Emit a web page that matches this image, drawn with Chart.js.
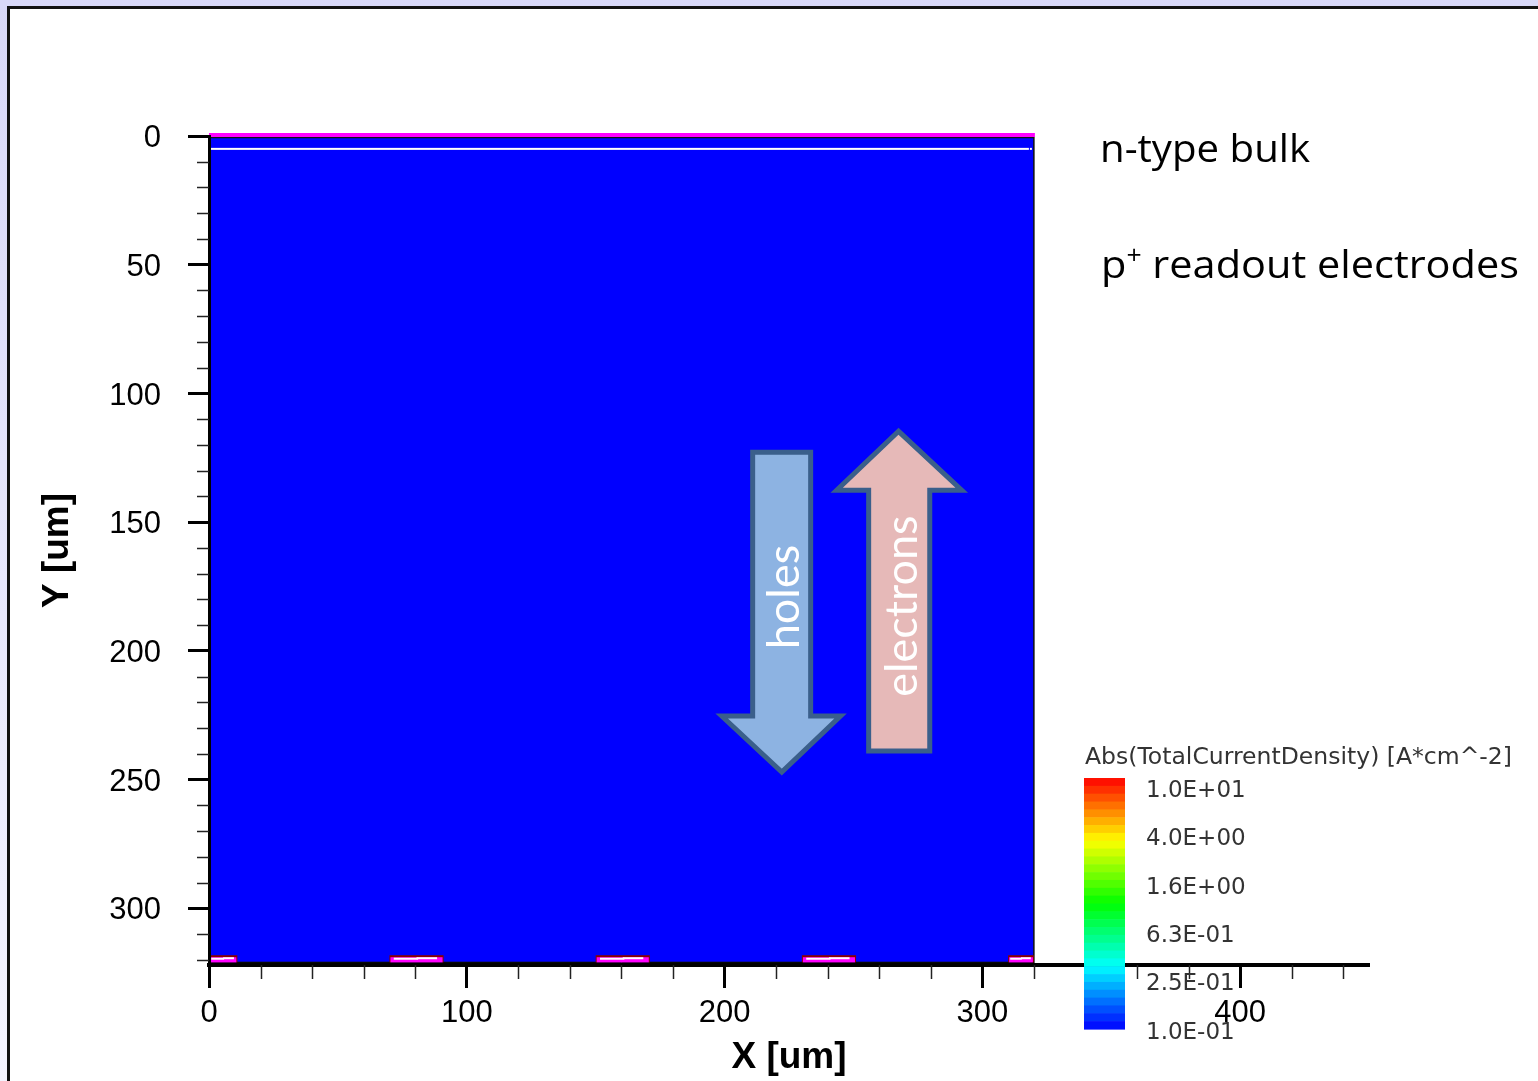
<!DOCTYPE html>
<html>
<head>
<meta charset="utf-8">
<script src="https://cdn.jsdelivr.net/npm/chart.js@4.4.1/dist/chart.umd.min.js"></script>
<style>
  html, body { margin: 0; padding: 0; }
  body {
    width: 1538px;
    height: 1081px;
    overflow: hidden;
    position: relative;
    background: linear-gradient(#d8d8f8, #f4f4ff);
  }
  #slide {
    position: absolute;
    left: 7px;
    top: 6px;
    width: 1560px;
    height: 1100px;
    background: #fff;
    border: 3px solid #111;
  }
  #chart { position: absolute; left: 0; top: 0; }
</style>
</head>
<body>
<div id="slide"></div>
<canvas id="chart" width="1538" height="1081"></canvas>
<script>
/* Device (um) */
const deviceWidth = 320;
const deviceDepth = 321;
const oxideDepth = 5;

/* p+ strips at the back side */
const stripStart = [0, 70, 150, 230, 310];
const stripEnd = [11, 91, 171, 251, 320];
const stripTop = 318.2;

/* Axes */
const xTickValues = [0, 20, 40, 60, 80, 100, 120, 140, 160, 180, 200, 220, 240, 260, 280, 300, 320, 340, 360, 380, 400, 420, 440];
const xLabelValues = [0, 100, 200, 300, 400];
const yTickValues = [0, 10, 20, 30, 40, 50, 60, 70, 80, 90, 100, 110, 120, 130, 140, 150, 160, 170, 180, 190, 200, 210, 220, 230, 240, 250, 260, 270, 280, 290, 300, 310, 320];
const yLabelValues = [0, 50, 100, 150, 200, 250, 300];

/* Carrier arrows (um) */
const holesX = [210.9, 233.4, 233.4, 245.0, 222.2, 198.9, 210.9];
const holesY = [122.8, 122.8, 225.3, 225.3, 247.1, 225.3, 225.3];
const holesText = [228.7, 179.1];
const electronsX = [255.9, 279.6, 279.6, 292.0, 267.5, 243.5, 255.9];
const electronsY = [238.9, 238.9, 137.6, 137.6, 114.7, 137.6, 137.6];
const electronsText = [274.6, 182.6];

/* Colour bar */
const colorbarTitle = "Abs(TotalCurrentDensity) [A*cm^-2]";
const colorbarLabels = ["1.0E+01", "4.0E+00", "1.6E+00", "6.3E-01", "2.5E-01", "1.0E-01"];
const colorbarBands = 32;

function stretchText(ctx, text, x, y, width) {
  const w = ctx.measureText(text).width;
  ctx.save();
  ctx.translate(x, y);
  ctx.scale(width / w, 1);
  ctx.fillText(text, 0, 0);
  ctx.restore();
}

function arrowPath(ctx, xs, ys, sx, sy) {
  ctx.beginPath();
  xs.forEach((v, i) => {
    const px = sx.getPixelForValue(v);
    const py = sy.getPixelForValue(ys[i]);
    if (i === 0) ctx.moveTo(px, py);
    else ctx.lineTo(px, py);
  });
  ctx.closePath();
}

/* Field + strips, under the axes */
const fieldPlugin = {
  id: "field",
  beforeDraw(chart) {
    const { ctx, scales: { x, y } } = chart;
    const l = x.getPixelForValue(0);
    const r = x.getPixelForValue(deviceWidth);
    const t = y.getPixelForValue(0);
    const b = y.getPixelForValue(deviceDepth);

    ctx.save();
    ctx.fillStyle = "#0000ff";
    ctx.fillRect(l, t, r - l, b - t);

    ctx.strokeStyle = "#111";
    ctx.lineWidth = 1.5;
    ctx.strokeRect(l, t + 1.5, r - l, b - t - 1.5);

    // magenta top contact
    ctx.fillStyle = "#ff00ff";
    ctx.fillRect(l, t - 3, r - l + 1, 4);

    // oxide interface line
    const oy = y.getPixelForValue(oxideDepth);
    ctx.fillStyle = "#ffffff";
    ctx.fillRect(l + 2, oy - 1, r - l - 7, 2);
    ctx.fillRect(r - 4, oy - 1, 2, 2);

    // strips
    stripStart.forEach((s, i) => {
      const sx0 = x.getPixelForValue(s);
      const sx1 = x.getPixelForValue(stripEnd[i]);
      const sy0 = y.getPixelForValue(stripTop);
      const w = sx1 - sx0;
      ctx.fillStyle = "#8b0000";
      ctx.fillRect(sx0, sy0, w, b - sy0 + 1);
      ctx.fillStyle = "#ff00ff";
      ctx.fillRect(sx0 + 1, sy0 + 2, w - 2, b - sy0 - 1);
      ctx.fillStyle = "#ffffff";
      ctx.fillRect(sx0 + w * 0.08, sy0 + 2.5, w * 0.45, 2);
      ctx.fillRect(sx0 + w * 0.5, sy0 + 2, w * 0.38, 2);
    });

    ctx.strokeStyle = "#000";
    ctx.lineWidth = 1;
    ctx.beginPath();
    ctx.moveTo(l, b + 0.5);
    ctx.lineTo(r, b + 0.5);
    ctx.stroke();
    ctx.restore();
  },

  afterDraw(chart) {
    const { ctx, chartArea, scales: { x, y } } = chart;
    ctx.save();

    // minor ticks
    ctx.strokeStyle = "#222";
    ctx.lineWidth = 1.5;
    xTickValues.forEach((v) => {
      if (xLabelValues.includes(v)) return;
      const px = Math.round(x.getPixelForValue(v)) + 0.5;
      ctx.beginPath();
      ctx.moveTo(px, chartArea.bottom);
      ctx.lineTo(px, chartArea.bottom + 14);
      ctx.stroke();
    });
    yTickValues.forEach((v) => {
      if (yLabelValues.includes(v)) return;
      const py = Math.round(y.getPixelForValue(v)) + 0.5;
      ctx.beginPath();
      ctx.moveTo(chartArea.left - 12, py);
      ctx.lineTo(chartArea.left, py);
      ctx.stroke();
    });

    // arrows
    ctx.lineJoin = "miter";
    ctx.lineWidth = 5;
    ctx.strokeStyle = "#3a5f8b";
    arrowPath(ctx, holesX, holesY, x, y);
    ctx.fillStyle = "#8db3e2";
    ctx.fill();
    ctx.stroke();
    arrowPath(ctx, electronsX, electronsY, x, y);
    ctx.fillStyle = "#e6b9b8";
    ctx.fill();
    ctx.stroke();

    ctx.fillStyle = "#ffffff";
    ctx.font = "45px Lato";
    ctx.textAlign = "center";
    ctx.textBaseline = "alphabetic";
    [["holes", holesText], ["electrons", electronsText]].forEach(([txt, pos]) => {
      ctx.save();
      ctx.translate(x.getPixelForValue(pos[0]), y.getPixelForValue(pos[1]));
      ctx.rotate(-Math.PI / 2);
      ctx.fillText(txt, 0, 0);
      ctx.restore();
    });

    // side notes
    ctx.fillStyle = "#000";
    ctx.textAlign = "left";
    ctx.font = "39px 'Open Sans'";
    stretchText(ctx, "n-type bulk", 1100, 162, 210);

    const small = "25px 'Open Sans'";
    const big = "39px 'Open Sans'";
    ctx.font = big;
    const wp = ctx.measureText("p").width;
    const wr = ctx.measureText(" readout electrodes").width;
    ctx.font = small;
    const wplus = ctx.measureText("+").width;
    const k = 418 / (wp + wplus + wr);
    ctx.save();
    ctx.translate(1101, 278);
    ctx.scale(k, 1);
    ctx.font = big;
    ctx.fillText("p", 0, 0);
    ctx.font = small;
    ctx.fillText("+", wp, -14);
    ctx.font = big;
    ctx.fillText(" readout electrodes", wp + wplus, 0);
    ctx.restore();

    // colour bar
    const barL = 1084, barR = 1125, barT = 778, barB = 1029;
    const bh = (barB - barT) / colorbarBands;
    for (let i = 0; i < colorbarBands; i++) {
      const hue = ((i + 0.5) / colorbarBands) * 240;
      ctx.fillStyle = "hsl(" + hue + ",100%,50%)";
      ctx.fillRect(barL, barT + i * bh, barR - barL, bh + 0.6);
    }
    ctx.fillStyle = "#333";
    ctx.font = "23px 'DejaVu Sans'";
    ctx.textBaseline = "alphabetic";
    stretchText(ctx, colorbarTitle, 1085, 764, 427);
    colorbarLabels.forEach((lab, i) => {
      ctx.fillText(lab, 1146, 797 + i * 48.3);
    });

    ctx.restore();
  }
};

const tickFont = { family: "Liberation Sans", size: 31 };
const titleFont = { family: "Liberation Sans", size: 37, weight: "bold" };

const chart = new Chart(document.getElementById("chart"), {
  type: "scatter",
  data: { datasets: [] },
  plugins: [fieldPlugin],
  options: {
    responsive: false,
    animation: false,
    events: [],
    layout: { padding: { top: 136, right: 169, bottom: 0, left: 0 } },
    plugins: {
      legend: { display: false },
      tooltip: { enabled: false }
    },
    scales: {
      x: {
        type: "linear",
        position: "bottom",
        min: 0,
        max: 450,
        afterBuildTicks: (s) => { s.ticks = xTickValues.map((v) => ({ value: v })); },
        afterFit: (s) => { s.height = 116; },
        border: { display: true, color: "#000", width: 4 },
        grid: {
          drawOnChartArea: false,
          tickLength: 23,
          tickWidth: 3,
          tickColor: (c) => (c.tick && xLabelValues.includes(c.tick.value) ? "#000" : "rgba(0,0,0,0)")
        },
        ticks: {
          autoSkip: false,
          maxRotation: 0,
          padding: 7,
          color: "#000",
          font: tickFont,
          callback: (v) => (xLabelValues.includes(v) ? String(v) : "")
        },
        title: {
          display: true,
          text: "X [um]",
          color: "#000",
          font: titleFont,
          padding: { top: 0, bottom: 1 }
        }
      },
      y: {
        type: "linear",
        reverse: true,
        min: 0,
        max: 322,
        afterBuildTicks: (s) => { s.ticks = yTickValues.map((v) => ({ value: v })); },
        afterFit: (s) => { s.width = 209; },
        border: { display: true, color: "#000", width: 3 },
        grid: {
          drawOnChartArea: false,
          tickLength: 21,
          tickWidth: 3,
          tickColor: (c) => (c.tick && yLabelValues.includes(c.tick.value) ? "#000" : "rgba(0,0,0,0)")
        },
        ticks: {
          autoSkip: false,
          padding: 27,
          labelOffset: 2.5,
          color: "#000",
          font: tickFont,
          callback: (v) => (yLabelValues.includes(v) ? String(v) : "")
        },
        title: {
          display: true,
          text: "Y [um]",
          color: "#000",
          font: titleFont,
          padding: { top: 36, bottom: 0 }
        }
      }
    }
  }
});
</script>
</body>
</html>
